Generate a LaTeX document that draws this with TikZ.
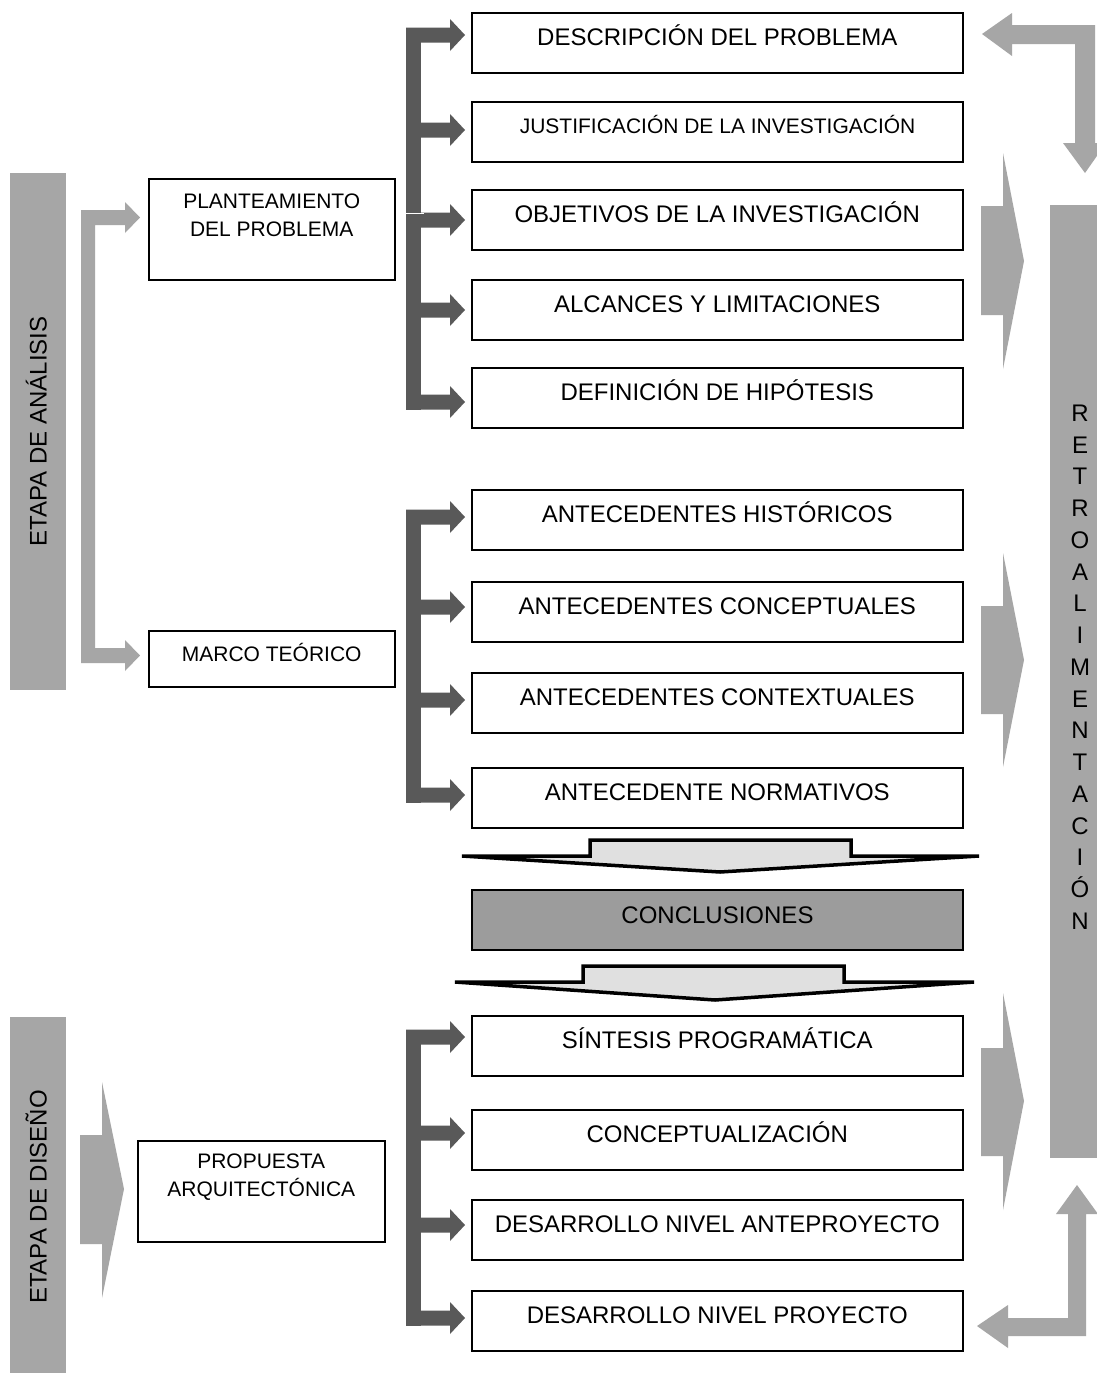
\documentclass[tikz,border=0pt]{standalone}
\usepackage{fontspec}
\setmainfont{Liberation Sans}
\usetikzlibrary{calc}
\definecolor{dk}{HTML}{595959}
\definecolor{lg}{HTML}{A6A6A6}
\definecolor{cg}{HTML}{9C9C9C}
\definecolor{ag}{HTML}{E0E0E0}
\newcommand\myarm[1]{\fill[dk] (406,{#1-7.5}) -- (450,{#1-7.5}) -- (450,{#1-16}) -- (465,#1) -- (450,{#1+16}) -- (450,{#1+7.5}) -- (406,{#1+7.5}) -- cycle;}
\tikzset{
  rbox/.style={draw=black, line width=1.5pt, fill=white, minimum width=491pt, minimum height=60pt,
    inner sep=0pt, anchor=north west, font=\fontsize{24}{28}\selectfont, text height=18pt, text depth=12pt},
  lbox/.style={draw=black, line width=1.5pt, fill=white, inner sep=0pt, anchor=north west},
  ltext/.style={font=\fontsize{21}{28}\selectfont, align=center, inner sep=0pt},
  sidebar/.style={fill=lg, inner sep=0pt, font=\fontsize{24}{28}\selectfont, text height=17.2pt, text depth=0pt},
}
\begin{document}
\begin{tikzpicture}[x=1pt,y=-1pt]
\useasboundingbox (0,0) rectangle (1097,1373);
\fill[white] (0,0) rectangle (1097,1373);

% side bars
\node[sidebar, minimum width=517pt, minimum height=56pt, rotate=90] (ea) at (38,431.5) {ETAPA DE ANÁLISIS};
\node[sidebar, minimum width=360pt, minimum height=56pt, rotate=90] (ed) at (38,1197) {ETAPA DE DISEÑO};
\node[fill=lg, inner sep=0pt, minimum width=50pt, minimum height=953pt, anchor=north west] (rb) at (1050,205) {};
\node[font=\fontsize{24}{31.75}\selectfont, align=center, inner sep=0pt] (rt) at (1080,667)
  {R\\E\\T\\R\\O\\A\\L\\I\\M\\E\\N\\T\\A\\C\\I\\Ó\\N};

% left boxes
\node[lbox, minimum width=246pt, minimum height=101pt] (pp) at (148,178) {};
\node[ltext] (ppt) at ($(pp.north)+(0,37.5)$) {PLANTEAMIENTO\\DEL PROBLEMA};
\node[lbox, minimum width=246pt, minimum height=56pt, font=\fontsize{21}{28}\selectfont, text height=16pt, text depth=10pt] (mt) at (148,630) {MARCO TEÓRICO};
\node[lbox, minimum width=247pt, minimum height=101pt] (pa) at (137,1140) {};
\node[ltext] (pat) at ($(pa.north)+(0,37)$) {PROPUESTA\\ARQUITECTÓNICA};

% right boxes
\node[rbox] (d1) at (471,12) {DESCRIPCIÓN DEL PROBLEMA};
\node[rbox, line width=2.2pt, font=\fontsize{21}{26}\selectfont, text height=16pt, text depth=14pt] (d2) at (471,101) {JUSTIFICACIÓN DE LA INVESTIGACIÓN};
\node[rbox] (d3) at (471,189) {OBJETIVOS DE LA INVESTIGACIÓN};
\node[rbox] (d4) at (471,279) {ALCANCES Y LIMITACIONES};
\node[rbox] (d5) at (471,367) {DEFINICIÓN DE HIPÓTESIS};
\node[rbox] (m1) at (471,489) {ANTECEDENTES HISTÓRICOS};
\node[rbox] (m2) at (471,581) {ANTECEDENTES CONCEPTUALES};
\node[rbox] (m3) at (471,672) {ANTECEDENTES CONTEXTUALES};
\node[rbox] (m4) at (471,767) {ANTECEDENTE NORMATIVOS};
\node[rbox, fill=cg, line width=2pt] (cc) at (471,889) {CONCLUSIONES};
\node[rbox] (p1) at (471,1015) {SÍNTESIS PROGRAMÁTICA};
\node[rbox] (p2) at (471,1109) {CONCEPTUALIZACIÓN};
\node[rbox] (p3) at (471,1199) {DESARROLLO NIVEL ANTEPROYECTO};
\node[rbox] (p4) at (471,1290) {DESARROLLO NIVEL PROYECTO};

% dark brackets
\fill[dk] (406,27.5) rectangle (421,409.5);
\myarm{35}\myarm{130}\myarm{220}\myarm{310}\myarm{402}
\draw[white, line width=0.8pt] (406,213.5) -- (424,213.5);
\fill[dk] (406,509.5) rectangle (421,802.5);
\myarm{517}\myarm{607}\myarm{700}\myarm{795}
\fill[dk] (406,1029.5) rectangle (421,1325.5);
\myarm{1037}\myarm{1133}\myarm{1225}\myarm{1318}

% light gray bracket
\fill[lg] (81,210) -- (125,210) -- (125,202) -- (140,217.5) -- (125,233) -- (125,225) -- (95,225)
  -- (95,648) -- (125,648) -- (125,640) -- (140,655.5) -- (125,671) -- (125,663) -- (81,663) -- cycle;

% big right arrows
\fill[lg] (981,206) -- (1003,206) -- (1003,153) -- (1024,261) -- (1003,369) -- (1003,315) -- (981,315) -- cycle;
\fill[lg] (981,606) -- (1003,606) -- (1003,553) -- (1024,660) -- (1003,767) -- (1003,714) -- (981,714) -- cycle;
\fill[lg] (981,1048) -- (1003,1048) -- (1003,993) -- (1024,1101) -- (1003,1210) -- (1003,1156) -- (981,1156) -- cycle;
\fill[lg] (80,1135) -- (102,1135) -- (102,1082) -- (124,1189) -- (102,1298) -- (102,1244) -- (80,1244) -- cycle;

% L-shaped feedback arrows
\fill[lg] (982,34) -- (1012,13) -- (1012,25) -- (1095,25) -- (1095,143) -- (1106,143) -- (1085,173)
  -- (1063,143) -- (1075,143) -- (1075,44) -- (1012,44) -- (1012,56) -- cycle;
\fill[lg] (1077,1185) -- (1098,1214) -- (1086,1214) -- (1086,1336) -- (1008,1336) -- (1008,1348)
  -- (977,1326) -- (1008,1305) -- (1008,1318) -- (1068,1318) -- (1068,1214) -- (1056,1214) -- cycle;

% conclusion arrows
\draw[line width=3.5pt, fill=ag] (462,856) -- (590,856) -- (590,840) -- (851,840) -- (851,856) -- (979,856) -- (720,872) -- cycle;
\draw[line width=3.5pt, fill=ag] (455,982) -- (583,982) -- (583,966) -- (844,966) -- (844,982) -- (974,982) -- (715,1000) -- cycle;
\end{tikzpicture}
\end{document}
